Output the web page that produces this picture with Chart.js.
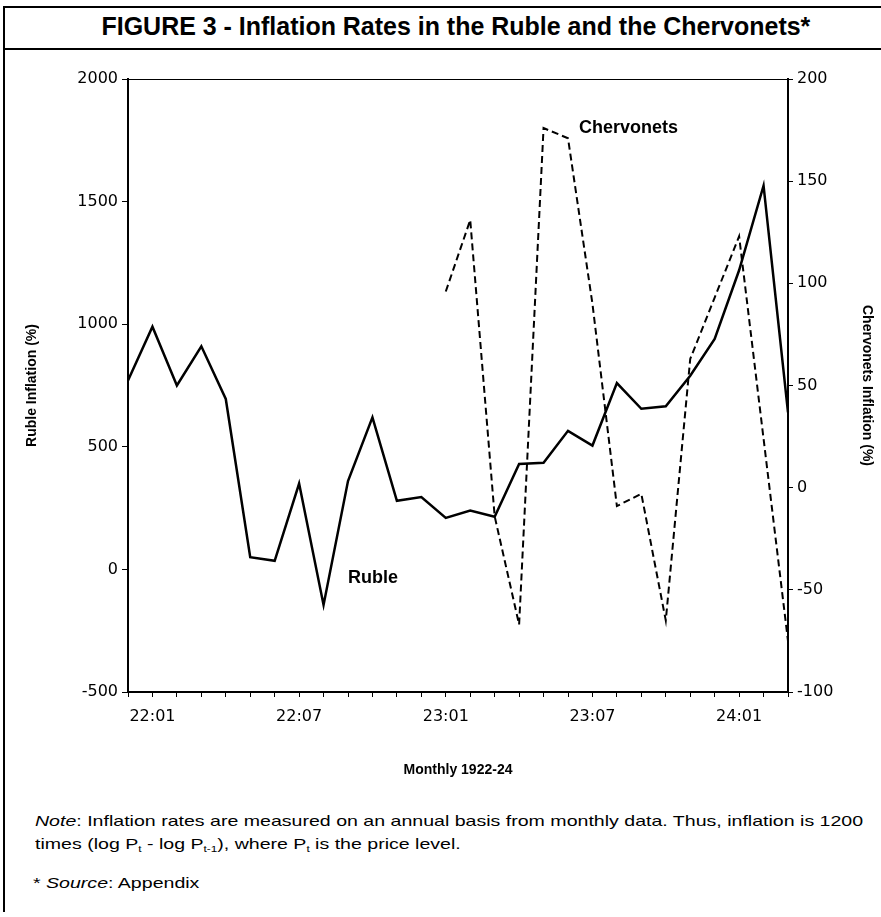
<!DOCTYPE html>
<html>
<head>
<meta charset="utf-8">
<script src="https://cdn.jsdelivr.net/npm/chart.js@4"></script>
<style>
  body { margin:0; width:881px; height:917px; position:relative; background:#fff; overflow:hidden; font-family:"Liberation Sans", Arial, sans-serif; color:#000; }
  .rule { position:absolute; background:#000; }
  #title { position:absolute; left:0; top:12px; width:912px; text-align:center; white-space:nowrap; }
  #titleText { display:inline-block; font-weight:bold; font-size:25px; transform-origin:50% 50%; }
  #note, #source { position:absolute; white-space:nowrap; font-size:15px; transform-origin:0 0; }
  #note { left:35px; top:809px; line-height:23px; }
  #source { left:33px; top:874px; }
  sub { font-size:9px; vertical-align:-3px; line-height:0; }
  #box { position:absolute; left:0; top:55px; width:881px; height:724px; }
</style>
</head>
<body>
<div class="rule" style="left:3px; top:6px; width:878px; height:2px"></div>
<div class="rule" style="left:3px; top:48px; width:878px; height:2px"></div>
<div class="rule" style="left:3px; top:6px; width:2px; height:906px"></div>
<div id="title"><span id="titleText">FIGURE 3 - Inflation Rates in the Ruble and the Chervonets*</span></div>
<div id="box"><canvas id="myChart"></canvas></div>
<div id="note">
  <span id="noteLine1"><i>Note</i>: Inflation rates are measured on an annual basis from monthly data. Thus, inflation is 1200</span><br>
  times (log P<sub>t</sub> - log P<sub>t-1</sub>), where P<sub>t</sub> is the price level.
</div>
<div id="source">* <i>Source</i>: Appendix</div>
<script>
// months, Dec 1921 to Mar 1924
var months = ['21:12',
  '22:01','22:02','22:03','22:04','22:05','22:06','22:07','22:08','22:09','22:10','22:11','22:12',
  '23:01','23:02','23:03','23:04','23:05','23:06','23:07','23:08','23:09','23:10','23:11','23:12',
  '24:01','24:02','24:03'];
var shownTicks = ['22:01','22:07','23:01','23:07','24:01'];

// Ruble inflation (%), left axis
var ruble = [770, 990, 750, 910, 695, 50, 35, 350, -145, 360, 620, 280, 295,
  210, 240, 215, 430, 435, 565, 505, 760, 655, 665, 790, 940, 1220, 1565, 640];
// Chervonets inflation (%), right axis
var chervonets = [null, null, null, null, null, null, null, null, null, null, null, null, null,
  96, 131, -14, -67, 176, 171, 90, -9, -3, -65, 63, 93, 123, 24, -75];

// fit title and note widths to the figure
var tt = document.getElementById('titleText');
tt.style.transform = 'scaleX(' + (709 / tt.offsetWidth) + ')';
var n1 = document.getElementById('noteLine1');
var ns = 828 / n1.offsetWidth;
document.getElementById('note').style.transform = 'scaleX(' + ns + ')';
document.getElementById('source').style.transform = 'scaleX(' + ns + ')';

var tickFont = {family: 'DejaVu Sans', size: 16};
var titleFont = {family: 'Liberation Sans', size: 14, weight: 'bold'};
var plain = function(v) { return String(v); };

var extras = {
  id: 'extras',
  afterDatasetsDraw: function(chart) {
    var ctx = chart.ctx, a = chart.chartArea;
    var x = chart.scales.x, y = chart.scales.y, y2 = chart.scales.y2;
    ctx.save();
    ctx.strokeStyle = '#000';
    ctx.lineWidth = 1;
    ctx.beginPath();
    ctx.moveTo(a.left, a.top + 0.5);
    ctx.lineTo(a.right, a.top + 0.5);
    ctx.stroke();
    ctx.fillStyle = '#000';
    ctx.font = 'bold 18px "Liberation Sans"';
    ctx.textBaseline = 'middle';
    ctx.fillText('Ruble', x.getPixelForValue(9), y.getPixelForValue(-35));
    ctx.fillText('Chervonets', x.getPixelForValue(18.45), y2.getPixelForValue(176));
    ctx.restore();
  }
};

var ctx = document.getElementById('myChart');
var myChart = new Chart(ctx, {
  type: 'line',
  data: {
    labels: months,
    datasets: [
      {
        data: ruble,
        label: 'Ruble',
        yAxisID: 'y',
        borderColor: '#000',
        borderWidth: 2.5,
        pointRadius: 0,
        fill: false
      },
      {
        data: chervonets,
        label: 'Chervonets',
        yAxisID: 'y2',
        borderColor: '#000',
        borderWidth: 2,
        borderDash: [7, 4],
        pointRadius: 0,
        fill: false
      }
    ]
  },
  options: {
    responsive: true,
    maintainAspectRatio: false,
    animation: false,
    layout: {padding: {top: 24, left: 0, right: 0, bottom: 0}},
    plugins: {legend: {display: false}, tooltip: {enabled: false}},
    scales: {
      x: {
        offset: false,
        grid: {drawOnChartArea: false, tickLength: 5, color: '#000'},
        border: {color: '#000', width: 2},
        ticks: {
          autoSkip: false, maxRotation: 0, padding: 10, color: '#000', font: tickFont,
          callback: function(v) {
            var l = this.getLabelForValue(v);
            return shownTicks.indexOf(l) >= 0 ? l : '';
          }
        },
        title: {display: true, text: 'Monthly 1922-24', color: '#000', font: titleFont, padding: {top: 0, bottom: 0}},
        afterFit: function(s) { s.height = 87; }
      },
      y: {
        position: 'left',
        min: -500, max: 2000,
        grid: {drawOnChartArea: false, tickLength: 6, color: '#000'},
        border: {color: '#000', width: 2},
        ticks: {stepSize: 500, padding: 4, color: '#000', font: tickFont, callback: plain},
        title: {display: true, text: 'Ruble Inflation (%)', color: '#000', font: titleFont, padding: {top: 24, bottom: 0}},
        afterFit: function(s) { s.width = 128; }
      },
      y2: {
        position: 'right',
        min: -100, max: 200,
        grid: {drawOnChartArea: false, tickLength: 5, color: '#000'},
        border: {color: '#000', width: 2},
        ticks: {stepSize: 50, padding: 4, color: '#000', font: tickFont, callback: plain},
        title: {display: true, text: 'Chervonets Inflation (%)', color: '#000', font: titleFont, padding: {top: 6, bottom: 0}},
        afterFit: function(s) { s.width = 93; }
      }
    }
  },
  plugins: [extras]
});
</script>
</body>
</html>
